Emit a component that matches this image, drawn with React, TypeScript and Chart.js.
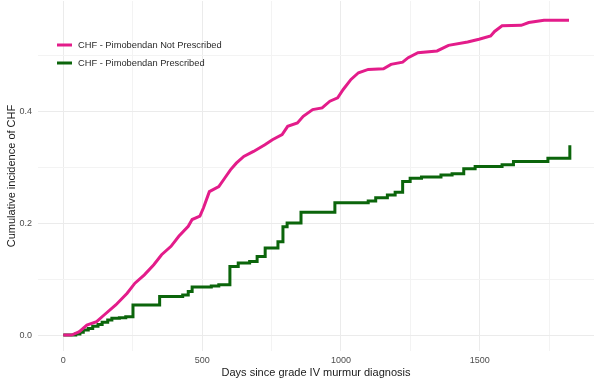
import React, { useEffect, useRef } from "react";
import { Chart, registerables } from "chart.js";

Chart.register(...registerables);

const seriesLabels = ["CHF - Pimobendan Not Prescribed", "CHF - Pimobendan Prescribed"];
const seriesColors = ["#E31C8A", "#0B650B"];

const notPrescribedDays = [0,30,58,85,120,147,189,230,258,292,326,354,388,416,450,464,492,505,526,560,581,602,623,650,685,726,753,788,808,843,864,898,932,960,988,1008,1036,1063,1098,1153,1180,1222,1242,1277,1346,1387,1456,1497,1539,1553,1580,1649,1676,1731,1821];
const notPrescribedValues = [0,0,0.006,0.018,0.024,0.036,0.054,0.075,0.093,0.108,0.126,0.144,0.159,0.177,0.195,0.207,0.213,0.228,0.257,0.266,0.281,0.296,0.308,0.320,0.329,0.341,0.350,0.359,0.374,0.380,0.392,0.404,0.407,0.419,0.425,0.440,0.458,0.470,0.476,0.477,0.485,0.489,0.497,0.506,0.509,0.519,0.525,0.530,0.536,0.544,0.554,0.555,0.560,0.564,0.564];

const prescribedDays = [0,45,60,72,90,106,125,140,160,175,202,225,251,347,430,450,464,533,560,600,630,671,698,727,773,791,806,856,978,1098,1125,1167,1195,1222,1249,1290,1360,1400,1442,1483,1580,1621,1745,1824,1824];
const prescribedValues = [0,0.002,0.005,0.009,0.012,0.016,0.019,0.023,0.027,0.030,0.031,0.033,0.054,0.069,0.072,0.078,0.086,0.088,0.090,0.123,0.129,0.132,0.141,0.156,0.167,0.194,0.201,0.220,0.237,0.240,0.246,0.251,0.256,0.275,0.281,0.283,0.287,0.289,0.298,0.302,0.305,0.311,0.317,0.317,0.340];

const xTicks = [0, 250, 500, 750, 1000, 1250, 1500, 1750];
const xMajorTicks = [0, 500, 1000, 1500];
const yTicks = [0, 0.1, 0.2, 0.3, 0.4, 0.5];
const yMajorTicks = [0, 0.2, 0.4];

const xTitle = "Days since grade IV murmur diagnosis";
const yTitle = "Cumulative incidence of CHF";

const FONT = "'Liberation Sans', Arial, sans-serif";

const legendPlugin = {
  id: "insideLegend",
  afterDraw(chart: any) {
    const ctx = chart.ctx;
    ctx.save();
    const rows = [45, 63];
    seriesLabels.forEach((label, i) => {
      const y = rows[i];
      ctx.strokeStyle = seriesColors[i];
      ctx.lineWidth = 3;
      ctx.beginPath();
      ctx.moveTo(57, y);
      ctx.lineTo(72, y);
      ctx.stroke();
      ctx.fillStyle = "#2A2A2A";
      ctx.font = `9.3px ${FONT}`;
      ctx.textBaseline = "middle";
      ctx.textAlign = "left";
      ctx.fillText(label, 78, y);
    });
    ctx.restore();
  },
};

const noPad = (s: any) => {
  s.paddingTop = 0;
  s.paddingBottom = 0;
  s.paddingLeft = 0;
  s.paddingRight = 0;
};

export default function App() {
  const ref = useRef<HTMLCanvasElement | null>(null);

  useEffect(() => {
    document.body.style.margin = "0";
    if (!ref.current) return;
    const chart = new Chart(ref.current, {
      type: "line",
      data: {
        datasets: [
          {
            label: seriesLabels[0],
            data: notPrescribedDays.map((d, i) => ({ x: d, y: notPrescribedValues[i] })),
            borderColor: seriesColors[0],
            borderWidth: 3,
            pointRadius: 0,
            tension: 0,
            fill: false,
          },
          {
            label: seriesLabels[1],
            data: prescribedDays.map((d, i) => ({ x: d, y: prescribedValues[i] })),
            borderColor: seriesColors[1],
            borderWidth: 3,
            pointRadius: 0,
            stepped: "before",
            fill: false,
          },
        ],
      },
      options: {
        animation: false,
        responsive: false,
        maintainAspectRatio: false,
        layout: { padding: { top: 1, right: 6, left: 0, bottom: 0 } },
        plugins: { legend: { display: false }, tooltip: { enabled: false } },
        scales: {
          x: {
            type: "linear",
            min: -91,
            max: 1911,
            border: { display: false },
            afterBuildTicks: (s: any) => {
              s.ticks = xTicks.map((v) => ({ value: v }));
            },
            afterFit: (s: any) => {
              s.height = 34;
              noPad(s);
            },
            grid: {
              drawTicks: false,
              color: (c: any) => (xMajorTicks.includes(c.tick?.value) ? "#EBEBEB" : "#F3F3F3"),
              lineWidth: 1,
            },
            ticks: {
              autoSkip: false,
              maxRotation: 0,
              padding: 4,
              color: "#4D4D4D",
              font: { family: FONT, size: 9 },
              callback: (v: any) => (xMajorTicks.includes(v) ? String(v) : ""),
            },
            title: {
              display: true,
              text: xTitle,
              color: "#1A1A1A",
              font: { family: FONT, size: 11 },
              padding: { top: 0, bottom: 5 },
            },
          },
          y: {
            type: "linear",
            min: -0.0285,
            max: 0.5985,
            border: { display: false },
            afterBuildTicks: (s: any) => {
              s.ticks = yTicks.map((v) => ({ value: v }));
            },
            afterFit: (s: any) => {
              s.width = 38;
              noPad(s);
            },
            grid: {
              drawTicks: false,
              color: (c: any) =>
                yMajorTicks.some((m) => Math.abs(m - (c.tick?.value ?? -1)) < 1e-9) ? "#EBEBEB" : "#F3F3F3",
              lineWidth: 1,
            },
            ticks: {
              autoSkip: false,
              padding: 6,
              color: "#4D4D4D",
              font: { family: FONT, size: 9 },
              callback: (v: any) =>
                yMajorTicks.some((m) => Math.abs(m - v) < 1e-9) ? Number(v).toFixed(1) : "",
            },
            title: {
              display: true,
              text: yTitle,
              color: "#1A1A1A",
              font: { family: FONT, size: 11 },
              padding: { top: 5, bottom: 0 },
            },
          },
        },
      },
      plugins: [legendPlugin],
    });
    return () => chart.destroy();
  }, []);

  return (
    <div style={{ width: 600, height: 385 }}>
      <canvas ref={ref} width={600} height={385} style={{ display: "block" }} />
    </div>
  );
}
